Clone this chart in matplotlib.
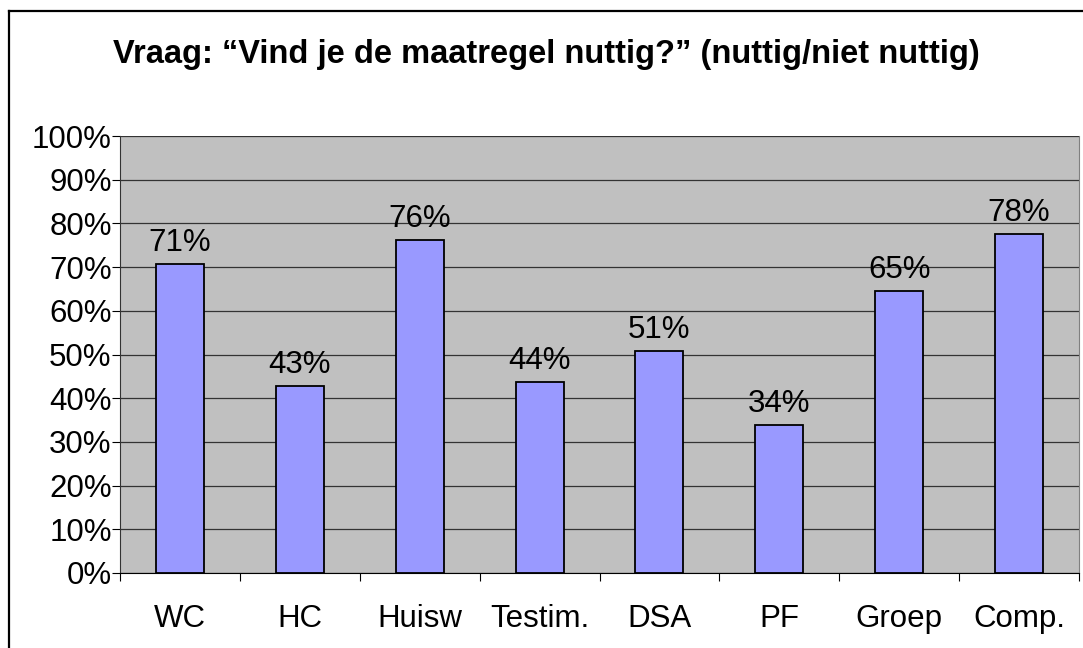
import numpy as np
import matplotlib
matplotlib.use('agg')
import matplotlib.pyplot as plt
from matplotlib.lines import Line2D
from matplotlib.ticker import FixedLocator

plt.rcParams['font.family'] = ['Liberation Sans', 'DejaVu Sans']

categories = ["WC", "HC", "Huisw", "Testim.", "DSA", "PF", "Groep", "Comp."]
# bar heights in percent, as drawn
values = [70.6, 42.7, 76.1, 43.6, 50.8, 33.9, 64.6, 77.6]
labels = ["71%", "43%", "76%", "44%", "51%", "34%", "65%", "78%"]
y_ticks = [0, 10, 20, 30, 40, 50, 60, 70, 80, 90, 100]

title = "Vraag: \u201cVind je de maatregel nuttig?\u201d (nuttig/niet nuttig)"

fig = plt.figure(figsize=(10.83, 6.48), dpi=100)
ax = fig.add_axes([120 / 1083, 1 - 573 / 648, 959 / 1083, 437 / 648])
ax.set_facecolor('#c0c0c0')

x = np.arange(len(categories))
ax.bar(x, values, width=0.4, color='#9999ff', edgecolor='black', linewidth=1.3, zorder=3)

for xi, v, lab in zip(x, values, labels):
    ax.annotate(lab, (xi, v), xytext=(0, 9.5), textcoords='offset points',
                ha='center', va='baseline', fontsize=22.5, zorder=4)

ax.set_xlim(-0.5, len(categories) - 0.5)
ax.set_ylim(0, 100)
ax.set_yticks(y_ticks)
ax.set_yticklabels([str(t) + "%" for t in y_ticks], fontsize=22.5)
ax.yaxis.grid(True, color='#333333', linewidth=0.9)
ax.set_axisbelow(True)

ax.set_xticks(x)
ax.set_xticklabels(categories, fontsize=22.5)
ax.xaxis.set_minor_locator(FixedLocator(np.arange(-0.5, len(categories), 1.0)))
ax.tick_params(axis='x', which='major', length=0, pad=22)
ax.tick_params(axis='x', which='minor', length=6, width=0.8, direction='out')
ax.tick_params(axis='y', length=6, width=0.8, direction='out', pad=0)

ax.spines['top'].set_visible(False)
ax.spines['right'].set_color('#808080')
ax.spines['right'].set_linewidth(0.8)
ax.spines['left'].set_color('#333333')
ax.spines['bottom'].set_color('black')

fig.text(546 / 1083, 1 - 63 / 648, title, ha='center', va='baseline',
         fontsize=23.5, fontweight='bold')

# outer chart frame (only top and left edges are inside the picture)
fig.add_artist(Line2D([9 / 1083, 9 / 1083], [0, 1 - 11 / 648], color='black', linewidth=1.6,
                      transform=fig.transFigure))
fig.add_artist(Line2D([9 / 1083, 1], [1 - 11 / 648, 1 - 11 / 648], color='black', linewidth=1.6,
                      transform=fig.transFigure))

plt.savefig('out.png', dpi=100)
plt.close()
